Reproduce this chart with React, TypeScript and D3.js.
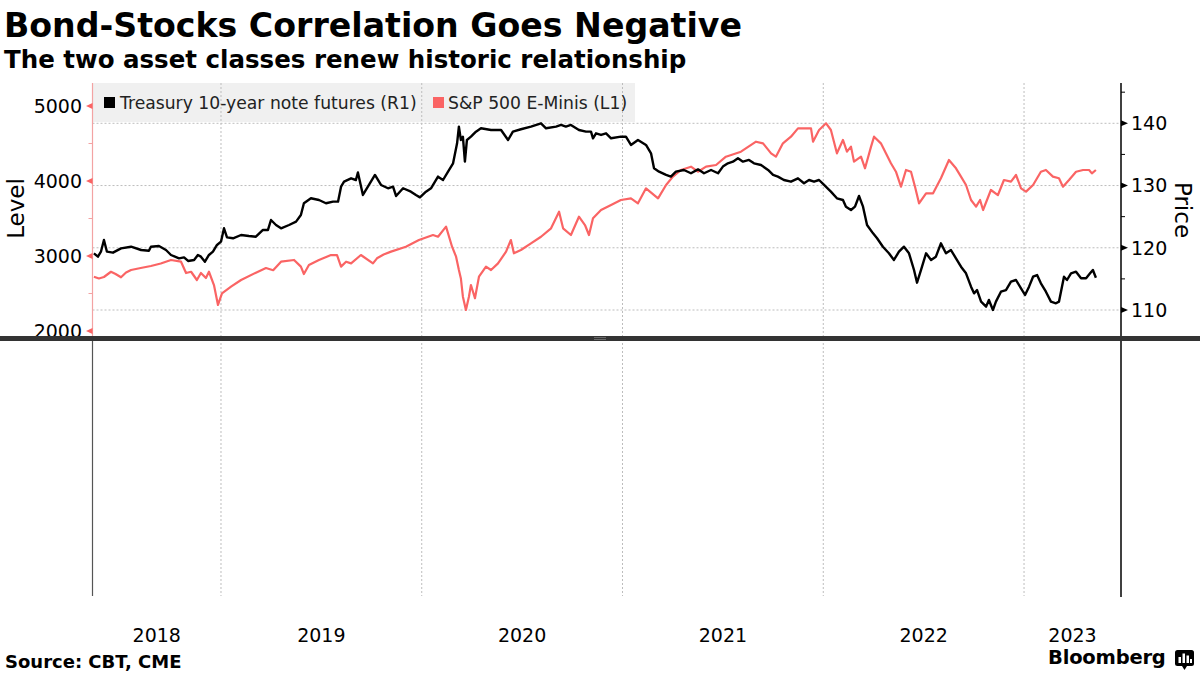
import React from "react";
import * as d3 from "d3";

const TITLE = "Bond-Stocks Correlation Goes Negative";
const SUBTITLE = "The two asset classes renew historic relationship";
const SOURCE = "Source: CBT, CME";
const LEGEND_TY = "Treasury 10-year note futures (R1)";
const LEGEND_SPX = "S&P 500 E-Minis (L1)";

const YEARS = [2018, 2019, 2020, 2021, 2022, 2023];
const YEAR_BOUNDS = [2019, 2020, 2021, 2022, 2023];
const LEFT_TICKS = [2000, 3000, 4000, 5000];
const LEFT_MINOR = [2500, 3500, 4500];
const RIGHT_TICKS = [110, 120, 130, 140];
const RIGHT_MINOR = [115, 125, 135, 145];

// S&P 500 E-mini (decimal year, level)
const SPX: [number, number][] = [
  [2018.367, 2724], [2018.392, 2700], [2018.417, 2720], [2018.452, 2790], [2018.475, 2760], [2018.502, 2716],
  [2018.527, 2780], [2018.552, 2813], [2018.6, 2840], [2018.651, 2867], [2018.7, 2900], [2018.751, 2947],
  [2018.801, 2924], [2018.826, 2773], [2018.851, 2790], [2018.88, 2680], [2018.9, 2773], [2018.925, 2707],
  [2018.94, 2790], [2018.965, 2613], [2018.985, 2347], [2019.005, 2502], [2019.05, 2591], [2019.1, 2680],
  [2019.174, 2778], [2019.224, 2840], [2019.26, 2810], [2019.299, 2924], [2019.364, 2947], [2019.398, 2858],
  [2019.413, 2760], [2019.438, 2880], [2019.488, 2947], [2019.548, 3013], [2019.578, 3013], [2019.598, 2858],
  [2019.623, 2924], [2019.648, 2902], [2019.697, 3013], [2019.757, 2902], [2019.777, 2969], [2019.81, 3020],
  [2019.847, 3058], [2019.921, 3124], [2019.986, 3213], [2020.056, 3280], [2020.081, 3257], [2020.121, 3391],
  [2020.151, 3124], [2020.171, 2991], [2020.185, 2813], [2020.195, 2700], [2020.205, 2457], [2020.22, 2280],
  [2020.235, 2457], [2020.245, 2613], [2020.265, 2436], [2020.285, 2724], [2020.32, 2858], [2020.345, 2813],
  [2020.38, 2902], [2020.42, 3058], [2020.444, 3213], [2020.459, 3036], [2020.494, 3080], [2020.544, 3169],
  [2020.594, 3257], [2020.644, 3369], [2020.684, 3591], [2020.704, 3369], [2020.743, 3280], [2020.783, 3524],
  [2020.813, 3413], [2020.833, 3280], [2020.853, 3502], [2020.893, 3613], [2020.943, 3680], [2020.992, 3747],
  [2021.042, 3769], [2021.077, 3702], [2021.117, 3902], [2021.177, 3769], [2021.217, 3947], [2021.251, 4058],
  [2021.291, 4147], [2021.341, 4191], [2021.376, 4124], [2021.416, 4191], [2021.466, 4213], [2021.515, 4324],
  [2021.59, 4391], [2021.665, 4524], [2021.7, 4502], [2021.74, 4369], [2021.764, 4324], [2021.799, 4502],
  [2021.839, 4591], [2021.874, 4702], [2021.939, 4702], [2021.949, 4524], [2021.979, 4680], [2022.014, 4769],
  [2022.038, 4680], [2022.068, 4369], [2022.098, 4547], [2022.118, 4391], [2022.138, 4458], [2022.153, 4258],
  [2022.188, 4324], [2022.208, 4169], [2022.238, 4458], [2022.253, 4591], [2022.287, 4502], [2022.312, 4369],
  [2022.337, 4236], [2022.362, 4124], [2022.387, 3924], [2022.412, 4147], [2022.437, 4124], [2022.457, 3924],
  [2022.477, 3702], [2022.512, 3836], [2022.547, 3836], [2022.586, 4036], [2022.626, 4280], [2022.661, 4169],
  [2022.686, 4058], [2022.711, 3947], [2022.736, 3747], [2022.761, 3658], [2022.781, 3747], [2022.796, 3613],
  [2022.835, 3880], [2022.87, 3813], [2022.9, 4013], [2022.935, 3991], [2022.96, 4080], [2022.985, 3902],
  [2023.01, 3858], [2023.045, 3947], [2023.084, 4124], [2023.109, 4147], [2023.144, 4058], [2023.174, 4036],
  [2023.194, 3924], [2023.224, 4013], [2023.259, 4124], [2023.294, 4147], [2023.324, 4147], [2023.338, 4102],
  [2023.358, 4147],
];

// Treasury 10-year note futures (decimal year, price)
const TY: [number, number][] = [
  [2018.367, 119.11], [2018.387, 118.57], [2018.402, 119.37], [2018.417, 121.25], [2018.432, 119.37],
  [2018.462, 119.21], [2018.502, 119.9], [2018.552, 120.17], [2018.602, 119.64], [2018.641, 119.53],
  [2018.651, 120.17], [2018.691, 120.29], [2018.726, 119.64], [2018.751, 118.84], [2018.791, 118.3],
  [2018.816, 118.46], [2018.836, 117.88], [2018.866, 118.04], [2018.885, 118.84], [2018.9, 118.57],
  [2018.92, 117.76], [2018.94, 118.84], [2018.96, 119.37], [2018.98, 120.45], [2019.0, 120.98],
  [2019.015, 123.13], [2019.03, 121.68], [2019.06, 121.52], [2019.1, 122.05], [2019.139, 121.89],
  [2019.174, 121.78], [2019.209, 122.86], [2019.234, 122.86], [2019.249, 124.46], [2019.274, 123.66],
  [2019.299, 123.13], [2019.339, 123.66], [2019.374, 124.2], [2019.398, 125.27], [2019.413, 127.15],
  [2019.448, 127.95], [2019.488, 127.68], [2019.523, 127.15], [2019.558, 127.41], [2019.583, 127.41],
  [2019.598, 129.82], [2019.613, 130.62], [2019.648, 131.16], [2019.672, 130.89], [2019.682, 132.1],
  [2019.707, 128.48], [2019.737, 130.09], [2019.767, 131.7], [2019.797, 130.09], [2019.832, 129.56],
  [2019.857, 129.82], [2019.872, 128.32], [2019.907, 129.56], [2019.946, 129.02], [2019.971, 128.48],
  [2019.991, 128.1], [2020.021, 129.02], [2020.046, 129.56], [2020.081, 131.43], [2020.106, 130.89],
  [2020.131, 132.23], [2020.156, 133.57], [2020.176, 136.79], [2020.185, 139.46], [2020.195, 137.32],
  [2020.205, 137.85], [2020.215, 133.84], [2020.225, 137.32], [2020.245, 137.85], [2020.27, 138.66],
  [2020.295, 139.2], [2020.345, 138.93], [2020.395, 138.93], [2020.43, 137.32], [2020.454, 138.66],
  [2020.494, 139.04], [2020.544, 139.46], [2020.594, 140.0], [2020.619, 139.2], [2020.669, 139.46],
  [2020.694, 139.73], [2020.718, 139.46], [2020.743, 139.73], [2020.783, 138.93], [2020.818, 138.66],
  [2020.843, 138.66], [2020.853, 137.59], [2020.868, 138.39], [2020.893, 138.13], [2020.918, 138.39],
  [2020.943, 137.59], [2020.992, 137.85], [2021.017, 137.85], [2021.042, 136.52], [2021.077, 137.32],
  [2021.117, 136.52], [2021.142, 135.18], [2021.157, 132.77], [2021.182, 132.23], [2021.217, 131.7],
  [2021.241, 131.43], [2021.266, 132.23], [2021.306, 132.5], [2021.341, 131.97], [2021.376, 132.6],
  [2021.406, 131.97], [2021.441, 132.5], [2021.476, 131.97], [2021.5, 133.04], [2021.525, 133.57],
  [2021.55, 133.84], [2021.575, 134.38], [2021.6, 133.84], [2021.63, 134.11], [2021.655, 133.57],
  [2021.69, 133.3], [2021.725, 132.5], [2021.75, 131.7], [2021.774, 131.43], [2021.804, 130.89],
  [2021.839, 130.62], [2021.874, 131.16], [2021.904, 130.36], [2021.929, 130.89], [2021.954, 130.62],
  [2021.979, 130.89], [2022.004, 130.09], [2022.038, 129.02], [2022.068, 127.95], [2022.098, 127.68],
  [2022.113, 126.6], [2022.138, 126.07], [2022.158, 126.6], [2022.178, 128.32], [2022.198, 126.6],
  [2022.218, 123.66], [2022.248, 122.32], [2022.268, 121.52], [2022.297, 120.17], [2022.327, 119.11],
  [2022.352, 118.04], [2022.377, 119.37], [2022.402, 120.17], [2022.427, 119.11], [2022.452, 116.43],
  [2022.467, 114.39], [2022.487, 116.43], [2022.512, 119.11], [2022.537, 118.04], [2022.561, 118.57],
  [2022.586, 120.71], [2022.611, 119.11], [2022.636, 119.64], [2022.661, 118.3], [2022.686, 116.96],
  [2022.711, 115.89], [2022.736, 113.75], [2022.751, 112.68], [2022.766, 113.21], [2022.786, 111.34],
  [2022.811, 110.54], [2022.825, 111.61], [2022.845, 110.0], [2022.86, 111.34], [2022.885, 112.94],
  [2022.91, 113.21], [2022.935, 114.55], [2022.96, 114.82], [2022.985, 113.48], [2023.005, 112.41],
  [2023.025, 113.75], [2023.045, 115.35], [2023.065, 115.62], [2023.084, 114.28], [2023.109, 112.94],
  [2023.134, 111.34], [2023.159, 111.08], [2023.174, 111.34], [2023.199, 115.35], [2023.214, 114.82],
  [2023.234, 115.89], [2023.259, 116.16], [2023.284, 115.09], [2023.309, 115.09], [2023.329, 115.89],
  [2023.343, 116.43], [2023.358, 115.19],
];

const RED = "#fa6464";
const FONT = "'DejaVu Sans', Verdana, sans-serif";

export default function App() {
  const W = 1200, H = 675;
  const plotLeft = 92.5, plotRight = 1121, plotTop = 83, plotBottom = 336;
  const lowerTop = 341, lowerBottom = 596;

  const x = d3.scaleLinear().domain([2018.36, 2023.483]).range([plotLeft, plotRight]);
  const yL = d3.scaleLinear().domain([2000, 5000]).range([331, 106]);
  const yR = d3.scaleLinear().domain([110, 140]).range([310, 123.3]);

  const spxLine = d3.line<[number, number]>().x(d => x(d[0])).y(d => yL(d[1]));
  const tyLine = d3.line<[number, number]>().x(d => x(d[0])).y(d => yR(d[1]));

  const yearLabelX = (yr: number) => {
    const a = Math.max(x(yr), plotLeft);
    const b = Math.min(x(yr + 1), plotRight);
    return (a + b) / 2;
  };

  return (
    <svg width={W} height={H} style={{ position: "absolute", left: 0, top: 0, background: "#fff" }} fontFamily={FONT}>
      <rect x={0} y={0} width={W} height={H} fill="#fff" />
      {/* Title */}
      <text x={4} y={37} fontSize={33.2} fontWeight="bold" fill="#000">{TITLE}</text>
      <text x={4} y={68} fontSize={24.5} fontWeight="bold" fill="#000">{SUBTITLE}</text>

      {/* Legend background */}
      <rect x={93} y={83} width={542} height={39} fill="#f0f0f0" />

      {/* horizontal gridlines */}
      {RIGHT_TICKS.map(t => (
        <line key={"hg" + t} x1={plotLeft} x2={plotRight} y1={yR(t)} y2={yR(t)} stroke="#bdbdbd" strokeDasharray="2,2" strokeWidth={1} />
      ))}
      {/* vertical gridlines */}
      {YEAR_BOUNDS.map(t => (
        <line key={"vg" + t} x1={x(t)} x2={x(t)} y1={plotTop} y2={lowerBottom} stroke="#bdbdbd" strokeDasharray="2,2" strokeWidth={1} />
      ))}

      {/* Data lines */}
      <defs>
        <clipPath id="plotclip">
          <rect x={plotLeft} y={plotTop} width={plotRight - plotLeft} height={plotBottom - plotTop} />
        </clipPath>
      </defs>
      <g clipPath="url(#plotclip)">
        <path d={spxLine(SPX) || ""} fill="none" stroke={RED} strokeWidth={2.2} strokeLinejoin="round" />
        <path d={tyLine(TY) || ""} fill="none" stroke="#000" strokeWidth={2.4} strokeLinejoin="round" />
      </g>

      {/* Legend */}
      <rect x={104} y={97} width={11} height={11} fill="#000" />
      <text x={120} y={109} fontSize={17.2} fill="#222">{LEGEND_TY}</text>
      <rect x={433} y={97} width={11} height={11} fill={RED} />
      <text x={448} y={109} fontSize={17.2} fill="#222">{LEGEND_SPX}</text>

      {/* Left axis */}
      <line x1={plotLeft} x2={plotLeft} y1={plotTop} y2={plotBottom} stroke="#f3a3a3" strokeWidth={1.2} />
      {LEFT_MINOR.map(t => (
        <line key={"lm" + t} x1={plotLeft - 4} x2={plotLeft} y1={yL(t)} y2={yL(t)} stroke="#f3a3a3" strokeWidth={1} />
      ))}
      {LEFT_TICKS.map(t => (
        <g key={"lt" + t}>
          <path d={`M${plotLeft},${yL(t) - 3} L${plotLeft - 6.5},${yL(t)} L${plotLeft},${yL(t) + 3} Z`} fill={RED} />
          <text x={82} y={yL(t)} dy="0.36em" textAnchor="end" fontSize={19} fill="#000">{t}</text>
        </g>
      ))}
      <text transform={`translate(24,208.5) rotate(-90)`} textAnchor="middle" fontSize={23} fill="#000">Level</text>

      {/* Right axis */}
      <line x1={plotRight} x2={plotRight} y1={plotTop} y2={lowerBottom + 1} stroke="#000" strokeWidth={1.5} />
      {RIGHT_MINOR.map(t => (
        <line key={"rm" + t} x1={plotRight} x2={plotRight + 4} y1={yR(t)} y2={yR(t)} stroke="#000" strokeWidth={1} />
      ))}
      {RIGHT_TICKS.map(t => (
        <g key={"rt" + t}>
          <path d={`M${plotRight},${yR(t) - 3} L${plotRight + 7},${yR(t)} L${plotRight},${yR(t) + 3} Z`} fill="#000" />
          <text x={1131} y={yR(t)} dy="0.36em" textAnchor="start" fontSize={19} fill="#000">{t}</text>
        </g>
      ))}
      <text transform={`translate(1175,210) rotate(90)`} textAnchor="middle" fontSize={23} fill="#000">Price</text>

      {/* Separator bar */}
      <rect x={0} y={336} width={W} height={5} fill="#333" />
      <line x1={594} x2={606} y1={337.5} y2={337.5} stroke="#777" strokeWidth={0.8} />
      <line x1={594} x2={606} y1={339.5} y2={339.5} stroke="#777" strokeWidth={0.8} />

      {/* Lower panel left axis */}
      <line x1={plotLeft} x2={plotLeft} y1={lowerTop} y2={lowerBottom} stroke="#555" strokeWidth={1.2} />

      {/* Year labels */}
      {YEARS.map(yr => (
        <text key={"yr" + yr} x={yearLabelX(yr)} y={642} textAnchor="middle" fontSize={19} fill="#000">{yr}</text>
      ))}

      {/* Footer */}
      <text x={5} y={668} fontSize={18} fontWeight="bold" fill="#000">{SOURCE}</text>
      <text x={1048} y={664} fontSize={19.5} fontWeight="bold" fill="#000" letterSpacing={-0.2}>Bloomberg</text>
      <g>
        <rect x={1175} y={650} width={19} height={16} rx={2.5} fill="#000" />
        <path d="M1182,666 L1184.5,670 L1187,666 Z" fill="#000" />
        <rect x={1178.5} y={657} width={2.5} height={6} fill="#fff" />
        <rect x={1182.5} y={653.5} width={2.5} height={9.5} fill="#fff" />
        <rect x={1186.5} y={655.5} width={2.5} height={7.5} fill="#fff" />
        <rect x={1190} y={659} width={2} height={4} fill="#fff" />
      </g>
    </svg>
  );
}
